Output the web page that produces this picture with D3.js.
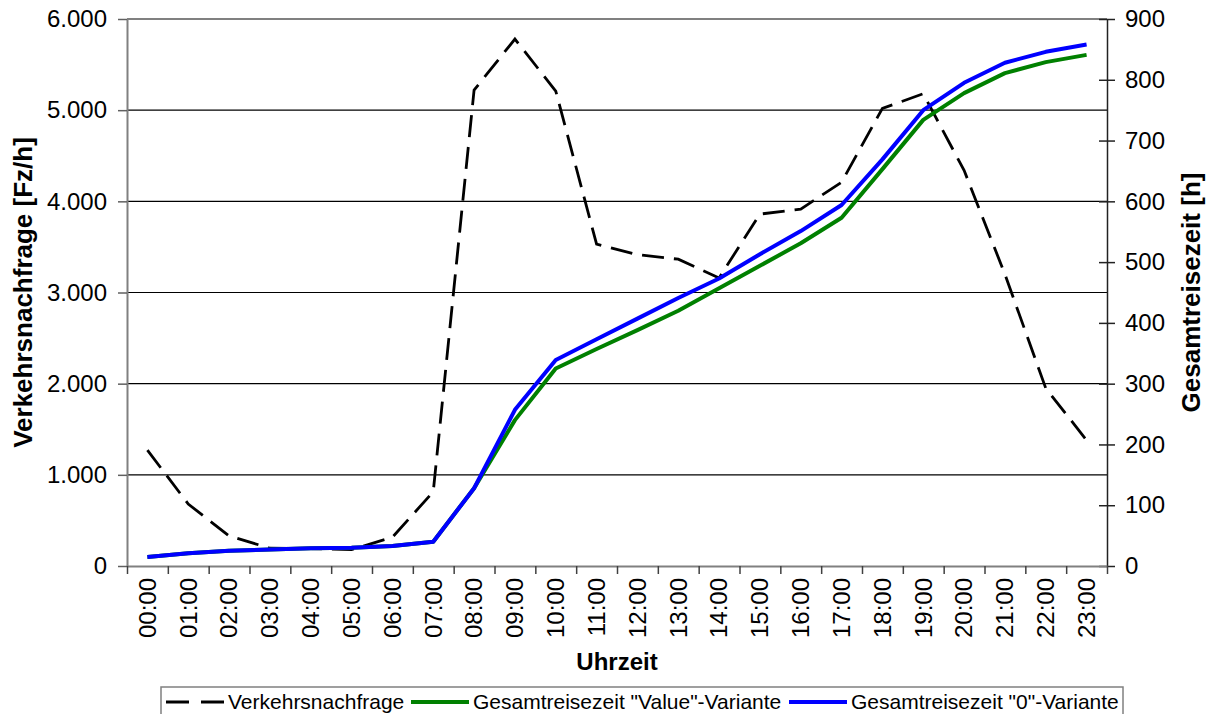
<!DOCTYPE html>
<html>
<head>
<meta charset="utf-8">
<script src="https://cdn.jsdelivr.net/npm/d3@7"></script>
<style>
  body { margin: 0; background: #fff; }
  svg { display: block; font-family: "Liberation Sans", Arial, sans-serif; }
</style>
</head>
<body>
<script>
// categories (hours of the day)
var hours = ["00:00","01:00","02:00","03:00","04:00","05:00","06:00","07:00","08:00","09:00","10:00","11:00",
             "12:00","13:00","14:00","15:00","16:00","17:00","18:00","19:00","20:00","21:00","22:00","23:00"];

// traffic demand [Fz/h], left axis
var demand = [1270, 680, 330, 195, 190, 180, 315, 815, 5220, 5780, 5210, 3530,
              3415, 3365, 3160, 3860, 3915, 4210, 5020, 5180, 4340, 3200, 1950, 1380];

// total travel time [h], right axis
var valueVariant = [15, 21, 25, 27, 29, 30, 33, 40, 128, 240, 325, 357,
                    388, 420, 457, 494, 531, 573, 653, 734, 778, 811, 829, 841];
var zeroVariant = [15, 21, 25, 27, 29, 30, 33, 40, 128, 257, 339, 373,
                   407, 441, 473, 513, 551, 594, 669, 750, 795, 828, 846, 858];

var leftTicks = [0, 1000, 2000, 3000, 4000, 5000, 6000];
var rightTicks = [0, 100, 200, 300, 400, 500, 600, 700, 800, 900];

var width = 1208, height = 714;
var plot = {left: 127, right: 1107, top: 19, bottom: 566};

var de = d3.formatLocale({decimal: ",", thousands: ".", grouping: [3], currency: ["", " €"]});
var fmt = de.format(",d");

var svg = d3.select("body").append("svg")
   .attr("width", width)
   .attr("height", height);

// scales
var x = d3.scaleBand().domain(hours).range([plot.left, plot.right]);
var xEdge = d3.scaleLinear().domain([0, hours.length]).range([plot.left, plot.right]);
var yL = d3.scaleLinear().domain([0, 6000]).range([plot.bottom, plot.top]);
var yR = d3.scaleLinear().domain([0, 900]).range([plot.bottom, plot.top]);

function cx(d, i) { return x(hours[i]) + x.bandwidth() / 2; }

// gridlines
svg.append("g").selectAll("line")
   .data(leftTicks.slice(1))
   .enter().append("line")
   .attr("x1", plot.left).attr("x2", plot.right)
   .attr("y1", function(d) { return yL(d); })
   .attr("y2", function(d) { return yL(d); })
   .attr("stroke", function(d) { return d === 6000 ? "#808080" : "#000"; })
   .attr("stroke-width", function(d) { return d === 6000 ? 2 : 1.2; });

// left axis
var gl = svg.append("g")
   .attr("transform", "translate(" + plot.left + ",0)")
   .call(d3.axisLeft(yL).tickValues(leftTicks).tickFormat(fmt).tickSize(9).tickPadding(11).tickSizeOuter(0));
gl.select(".domain").attr("stroke", "#808080").attr("stroke-width", 2);
gl.selectAll(".tick line").attr("stroke", "#606060").attr("stroke-width", 1.5);
gl.selectAll("text").attr("font-size", "24px").attr("font-family", "Liberation Sans, Arial").attr("fill", "#000");

// right axis
var gr = svg.append("g")
   .attr("transform", "translate(" + plot.right + ",0)")
   .call(d3.axisRight(yR).tickValues(rightTicks).tickSize(8).tickPadding(10).tickSizeOuter(0));
gr.select(".domain").attr("stroke", "#222").attr("stroke-width", 1.5);
gr.selectAll(".tick line").attr("x1", -8).attr("stroke", "#222").attr("stroke-width", 1.5);
gr.selectAll("text").attr("font-size", "24px").attr("font-family", "Liberation Sans, Arial").attr("fill", "#000");

// bottom axis: ticks at category edges
var gb = svg.append("g")
   .attr("transform", "translate(0," + plot.bottom + ")")
   .call(d3.axisBottom(xEdge).tickValues(d3.range(hours.length + 1)).tickFormat("").tickSize(8).tickSizeOuter(0));
gb.select(".domain").attr("stroke", "#808080").attr("stroke-width", 2);
gb.selectAll(".tick line").attr("stroke", "#404040").attr("stroke-width", 1.5);

// bottom labels, rotated
var gx = svg.append("g")
   .attr("transform", "translate(0," + plot.bottom + ")")
   .call(d3.axisBottom(x).tickSize(0).tickPadding(0));
gx.select(".domain").remove();
gx.selectAll("text")
   .attr("font-size", "24px")
   .attr("font-family", "Liberation Sans, Arial")
   .attr("fill", "#000")
   .attr("text-anchor", "end")
   .attr("transform", "translate(0,12) rotate(-90)")
   .attr("x", 0).attr("y", 0).attr("dy", "0.35em");

// series lines
var lineL = d3.line().x(cx).y(function(d) { return yL(d); });
var lineR = d3.line().x(cx).y(function(d) { return yR(d); });

svg.append("path").datum(demand)
   .attr("d", lineL)
   .attr("fill", "none")
   .attr("stroke", "#000")
   .attr("stroke-width", 2.8)
   .attr("stroke-dasharray", "22,10");

svg.append("path").datum(valueVariant)
   .attr("d", lineR)
   .attr("fill", "none")
   .attr("stroke", "#008000")
   .attr("stroke-width", 4)
   .attr("stroke-linejoin", "round");

svg.append("path").datum(zeroVariant)
   .attr("d", lineR)
   .attr("fill", "none")
   .attr("stroke", "#0000ff")
   .attr("stroke-width", 4)
   .attr("stroke-linejoin", "round");

// axis titles
svg.append("text")
   .attr("transform", "translate(32," + ((plot.top + plot.bottom) / 2) + ") rotate(-90)")
   .attr("text-anchor", "middle")
   .attr("font-size", "26px").attr("font-weight", "bold")
   .text("Verkehrsnachfrage [Fz/h]");

svg.append("text")
   .attr("transform", "translate(1200," + ((plot.top + plot.bottom) / 2) + ") rotate(-90)")
   .attr("text-anchor", "middle")
   .attr("font-size", "26px").attr("font-weight", "bold")
   .text("Gesamtreisezeit [h]");

svg.append("text")
   .attr("x", (plot.left + plot.right) / 2)
   .attr("y", 670)
   .attr("text-anchor", "middle")
   .attr("font-size", "24px").attr("font-weight", "bold")
   .text("Uhrzeit");

// legend
var legend = svg.append("g");
legend.append("rect")
   .attr("x", 161).attr("y", 687)
   .attr("width", 962).attr("height", 40)
   .attr("fill", "#fff")
   .attr("stroke", "#808080").attr("stroke-width", 1.5);

var items = [
   {label: "Verkehrsnachfrage", color: "#000", dash: "22,10", w: 2.8, x: 166},
   {label: "Gesamtreisezeit \"Value\"-Variante", color: "#008000", dash: null, w: 4, x: 411},
   {label: "Gesamtreisezeit \"0\"-Variante", color: "#0000ff", dash: null, w: 4, x: 789}
];

items.forEach(function(it) {
   legend.append("line")
      .attr("x1", it.x).attr("x2", it.x + 58)
      .attr("y1", 702).attr("y2", 702)
      .attr("stroke", it.color)
      .attr("stroke-width", it.w)
      .attr("stroke-dasharray", it.dash ? "23,12" : null);
   legend.append("text")
      .attr("x", it.x + 62).attr("y", 709)
      .attr("font-size", "21px")
      .text(it.label);
});
</script>
</body>
</html>
